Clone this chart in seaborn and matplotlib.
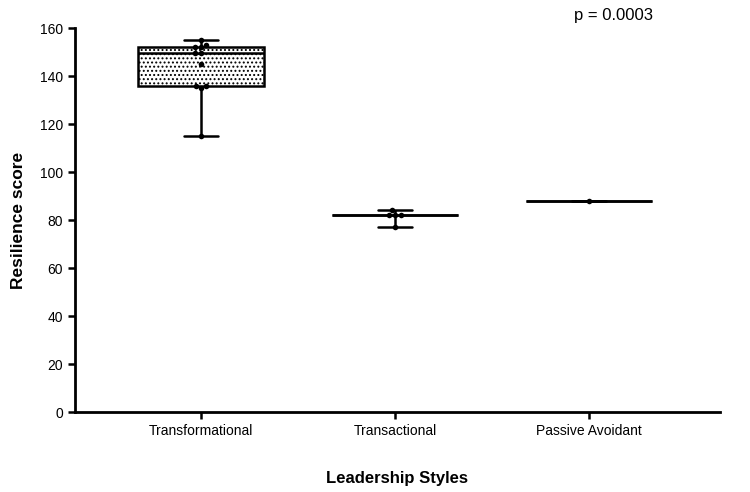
import numpy as np
import matplotlib
matplotlib.use("Agg")
import matplotlib.pyplot as plt
import seaborn as sns
import pandas as pd

# values
styles = ["Transformational", "Transactional", "Passive Avoidant"]
transformational = [155, 153, 152, 152, 149.5, 149.5, 145, 136, 136, 135, 115]
transactional = [84, 82, 82, 82, 77]
passive_avoidant = [88]
p_text = "p = 0.0003"

df = pd.DataFrame({
    "style": [styles[0]] * len(transformational)
    + [styles[1]] * len(transactional)
    + [styles[2]] * len(passive_avoidant),
    "score": transformational + transactional + passive_avoidant,
})

sns.set_style("ticks")
plt.rcParams["font.family"] = ["Liberation Sans", "DejaVu Sans"]
plt.rcParams["hatch.linewidth"] = 0.9
for k in ["text.color", "axes.labelcolor", "xtick.color", "ytick.color"]:
    plt.rcParams[k] = "black"

fig = plt.figure(figsize=(7.5, 4.92), dpi=100)
ax = fig.add_axes([0.1, 0.1626, 0.86, 0.7804])

sns.boxplot(data=df, x="style", y="score", order=styles, whis=(0, 100),
            width=0.65, color="white", linecolor="black", linewidth=1.8,
            showfliers=False, capwidths=0.175, ax=ax)
for patch in ax.patches:
    patch.set_hatch("....")
    patch.set_edgecolor("black")

sns.swarmplot(data=df, x="style", y="score", order=styles, color="black",
              size=4, ax=ax)

ax.set_xlim(-0.65, 2.675)
ax.set_ylim(0, 160)
ax.set_yticks(range(0, 161, 20))
ax.set_xlabel("Leadership Styles", fontsize=12, fontweight="bold", labelpad=24)
ax.set_ylabel("Resilience score", fontsize=12.5, fontweight="bold", labelpad=10)
ax.tick_params(axis="both", labelsize=10, width=1.8, length=5, color="black")
for s in ["left", "bottom"]:
    ax.spines[s].set_linewidth(2)
    ax.spines[s].set_color("black")
sns.despine(ax=ax)

fig.text(0.818, 0.968, p_text, fontsize=12, ha="center", va="center")

fig.savefig("out.png", dpi=100)
